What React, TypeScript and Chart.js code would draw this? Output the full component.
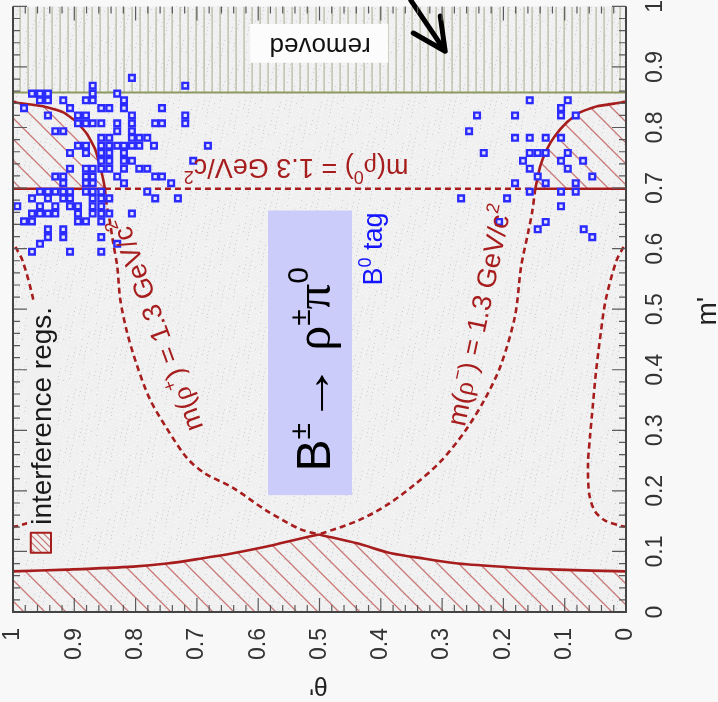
import React, { useEffect, useRef } from 'react';
import { Chart, registerables } from 'chart.js';

Chart.register(...registerables);

const SANS = '"Liberation Sans", Arial, Helvetica, sans-serif';
const SERIF = '"Liberation Serif", "DejaVu Serif", serif';
const RED = '#a71d1d';
const BLUE = '#2b2bff';

// axis ticks
const thetaTickValues = [1, 0.9, 0.8, 0.7, 0.6, 0.5, 0.4, 0.3, 0.2, 0.1, 0];
const thetaTickLabels = ['1', '0.9', '0.8', '0.7', '0.6', '0.5', '0.4', '0.3', '0.2', '0.1', '0'];
const mTickValues = [0, 0.1, 0.2, 0.3, 0.4, 0.5, 0.6, 0.7, 0.8, 0.9, 1];
const mTickLabels = ['0', '0.1', '0.2', '0.3', '0.4', '0.5', '0.6', '0.7', '0.8', '0.9', '1'];

// B0-tagged events: theta' and m'
const eventTheta = [
  0.806, 0.870, 0.719, 0.969, 0.956, 0.943, 0.870, 0.830, 0.956, 0.943,
  0.918, 0.881, 0.870, 0.819, 0.982, 0.907, 0.856, 0.843, 0.819, 0.757,
  0.943, 0.894, 0.881, 0.806, 0.719, 0.894, 0.881, 0.870, 0.856, 0.830,
  0.806, 0.768, 0.757, 0.719, 0.931, 0.918, 0.830, 0.806, 0.856, 0.843,
  0.806, 0.794, 0.781, 0.894, 0.881, 0.856, 0.843, 0.830, 0.819, 0.806,
  0.794, 0.770, 0.682, 0.907, 0.881, 0.856, 0.843, 0.819, 0.856, 0.843,
  0.819, 0.806, 0.706, 0.907, 0.881, 0.870, 0.856, 0.843, 0.819, 0.794,
  0.781, 0.931, 0.918, 0.881, 0.870, 0.830, 0.768, 0.757, 0.918, 0.881,
  0.870, 0.819, 0.742, 0.956, 0.943, 0.931, 0.918, 0.907, 0.881, 0.870,
  0.856, 0.781, 0.969, 0.943, 0.918, 0.907, 0.870, 0.856, 0.843, 0.768,
  0.731, 0.993, 0.956, 0.931, 0.907, 0.894, 0.870, 0.856, 0.969, 0.956,
  0.943, 0.931, 0.894, 0.870, 0.856, 0.843, 0.806, 0.982, 0.969, 0.894,
  0.881, 0.856, 0.943, 0.918, 0.943, 0.918, 0.856, 0.956, 0.830, 0.969,
  0.907, 0.856,
  0.157, 0.095, 0.106, 0.243, 0.181, 0.106, 0.082, 0.256, 0.181, 0.157,
  0.131, 0.106, 0.232, 0.157, 0.144, 0.131, 0.095, 0.168, 0.106, 0.070,
  0.157, 0.095, 0.144, 0.055, 0.181, 0.131, 0.082, 0.157, 0.106, 0.082,
  0.269, 0.194, 0.106, 0.207, 0.131, 0.144, 0.069, 0.055,
];
const eventM = [
  0.882, 0.869, 0.869, 0.856, 0.856, 0.856, 0.856, 0.856, 0.845, 0.845,
  0.845, 0.845, 0.845, 0.845, 0.832, 0.832, 0.832, 0.832, 0.832, 0.832,
  0.820, 0.820, 0.820, 0.820, 0.820, 0.807, 0.807, 0.807, 0.807, 0.807,
  0.807, 0.807, 0.807, 0.807, 0.794, 0.794, 0.794, 0.794, 0.783, 0.783,
  0.783, 0.783, 0.783, 0.770, 0.770, 0.770, 0.770, 0.770, 0.770, 0.770,
  0.770, 0.770, 0.770, 0.758, 0.758, 0.758, 0.758, 0.758, 0.745, 0.745,
  0.745, 0.745, 0.745, 0.732, 0.732, 0.732, 0.732, 0.732, 0.732, 0.732,
  0.732, 0.719, 0.719, 0.719, 0.719, 0.719, 0.719, 0.719, 0.708, 0.708,
  0.708, 0.708, 0.708, 0.694, 0.694, 0.694, 0.694, 0.694, 0.694, 0.694,
  0.694, 0.694, 0.683, 0.683, 0.683, 0.683, 0.683, 0.683, 0.683, 0.683,
  0.683, 0.670, 0.670, 0.670, 0.670, 0.670, 0.670, 0.670, 0.658, 0.658,
  0.658, 0.658, 0.658, 0.658, 0.658, 0.658, 0.658, 0.645, 0.645, 0.645,
  0.645, 0.645, 0.632, 0.632, 0.619, 0.619, 0.619, 0.608, 0.608, 0.595,
  0.595, 0.595,
  0.845, 0.845, 0.832, 0.820, 0.820, 0.820, 0.820, 0.794, 0.783, 0.783,
  0.783, 0.783, 0.758, 0.758, 0.758, 0.758, 0.758, 0.745, 0.745, 0.745,
  0.732, 0.732, 0.719, 0.719, 0.708, 0.708, 0.708, 0.694, 0.694, 0.694,
  0.683, 0.683, 0.670, 0.644, 0.644, 0.632, 0.632, 0.619,
];

// m(rho+) = 1.3 GeV contour
const rhoPlusTheta = [0.850, 0.847, 0.842, 0.837, 0.830, 0.825, 0.814, 0.798, 0.777, 0.749, 0.716, 0.687, 0.641, 0.586, 0.532, 0.501];
const rhoPlusM = [0.699, 0.671, 0.645, 0.612, 0.571, 0.516, 0.462, 0.408, 0.352, 0.303, 0.254, 0.229, 0.205, 0.167, 0.137, 0.128];
// m(rho-) = 1.3 GeV contour
const rhoMinusTheta = [0.148, 0.153, 0.160, 0.171, 0.181, 0.204, 0.230, 0.263, 0.302, 0.344, 0.388, 0.437, 0.501];
const rhoMinusM = [0.699, 0.661, 0.625, 0.571, 0.489, 0.408, 0.352, 0.298, 0.249, 0.211, 0.178, 0.151, 0.128];
// m(rho0) = 1.3 GeV contour
const rhoZeroTheta = [0.850, 0.148];
const rhoZeroM = [0.699, 0.699];
// side contours
const sideRightTheta = [0.004, 0.016, 0.033, 0.041, 0.049, 0.054, 0.059, 0.062, 0.060, 0.051, 0.034, 0.008, 0.0];
const sideRightM = [0.603, 0.579, 0.516, 0.462, 0.396, 0.342, 0.286, 0.244, 0.195, 0.167, 0.151, 0.142, 0.141];
const sideLeftTheta = [0.996, 0.984, 0.967, 0.959, 0.951, 0.946, 0.941, 0.938, 0.940, 0.949, 0.966, 0.992, 1.0];
const sideLeftM = [0.603, 0.579, 0.516, 0.462, 0.396, 0.342, 0.286, 0.244, 0.195, 0.167, 0.151, 0.142, 0.141];

// interference regions (solid boundaries)
const arcLeftTheta = [1.0, 0.993, 0.951, 0.918, 0.896, 0.879, 0.866, 0.858, 0.853, 0.850];
const arcLeftM = [0.843, 0.841, 0.835, 0.825, 0.809, 0.789, 0.764, 0.736, 0.715, 0.699];
const floorLeftTheta = [1.0, 0.850];
const floorLeftM = [0.699, 0.699];
const arcRightTheta = [0.148, 0.140, 0.129, 0.116, 0.096, 0.075, 0.047, 0.010, 0.0];
const arcRightM = [0.699, 0.736, 0.764, 0.786, 0.809, 0.825, 0.835, 0.841, 0.843];
const floorRightTheta = [0.148, 0.0];
const floorRightM = [0.699, 0.699];
const bottomLeftTheta = [1.0, 0.912, 0.804, 0.749, 0.695, 0.641, 0.586, 0.532, 0.501];
const bottomLeftM = [0.067, 0.070, 0.075, 0.080, 0.088, 0.097, 0.108, 0.121, 0.128];
const bottomRightTheta = [0.501, 0.437, 0.383, 0.328, 0.274, 0.192, 0.111, 0.0];
const bottomRightM = [0.128, 0.113, 0.097, 0.088, 0.080, 0.074, 0.070, 0.067];

// removed region boundary
const removedTheta = [0, 1];
const removedM = [0.858, 0.858];

const pts = (xs: number[], ys: number[]) => xs.map((x, i) => ({ x, y: ys[i] }));

type Seg = { t: string; f: string; dy?: number; sx?: number };
function drawRich(ctx: CanvasRenderingContext2D, segs: Seg[], x: number, y: number, angle: number, align: string, color: string) {
  ctx.save();
  ctx.translate(x, y);
  ctx.rotate(angle);
  ctx.fillStyle = color;
  ctx.textBaseline = 'alphabetic';
  ctx.textAlign = 'left';
  let total = 0;
  const ws = segs.map((s) => { ctx.font = s.f; const w = ctx.measureText(s.t).width * (s.sx || 1); total += w; return w; });
  let cx = align === 'center' ? -total / 2 : align === 'right' ? -total : 0;
  segs.forEach((s, i) => {
    ctx.font = s.f;
    if (s.sx) {
      ctx.save();
      ctx.translate(cx, s.dy || 0);
      ctx.scale(s.sx, 1);
      ctx.fillText(s.t, 0, 0);
      ctx.restore();
    } else {
      ctx.fillText(s.t, cx, s.dy || 0);
    }
    cx += ws[i];
  });
  ctx.restore();
}

function makeHatch(color: string, size: number, lw: number) {
  const c = document.createElement('canvas');
  c.width = size; c.height = size;
  const g = c.getContext('2d')!;
  g.strokeStyle = color; g.lineWidth = lw;
  g.beginPath();
  g.moveTo(-3, -3); g.lineTo(size + 3, size + 3);
  g.moveTo(-3, size - 3); g.lineTo(3, size + 3);
  g.moveTo(size - 3, -3); g.lineTo(size + 3, 3);
  g.stroke();
  return g.createPattern(c, 'repeat')!;
}
function makeStripes() {
  const c = document.createElement('canvas');
  c.width = 8; c.height = 8;
  const g = c.getContext('2d')!;
  g.fillStyle = 'rgba(185,188,160,0.95)';
  g.fillRect(3.4, 0, 1.4, 8);
  return g.createPattern(c, 'repeat')!;
}
function makeSpeckle() {
  const c = document.createElement('canvas');
  c.width = 41; c.height = 41;
  const g = c.getContext('2d')!;
  g.fillStyle = '#f0f0f0';
  g.fillRect(0, 0, 41, 41);
  for (let i = 0; i < 110; i++) {
    const x = (i * 17 + (i % 7) * 5) % 41;
    const y = (i * 29 + (i % 5) * 11) % 41;
    g.fillStyle = i % 3 === 0 ? 'rgba(160,160,185,0.4)' : 'rgba(255,255,255,0.75)';
    g.fillRect(x, y, 1, 1);
  }
  return g.createPattern(c, 'repeat')!;
}

export default function App() {
  const ref = useRef<HTMLCanvasElement>(null);
  useEffect(() => {
    const canvas = ref.current!;
    const hatch = makeHatch('rgba(190,80,80,0.75)', 21, 1.3);
    const hatchSmall = makeHatch('rgba(190,80,80,0.8)', 7, 1.2);
    const stripes = makeStripes();
    const speckle = makeSpeckle();

    const curve = (data: any, dashed: boolean, extra: any = {}) => ({
      type: 'line',
      data,
      borderColor: RED,
      borderWidth: 2.6,
      borderDash: dashed ? [6, 4] : [],
      pointRadius: 0,
      tension: 0.3,
      fill: false,
      order: 1,
      ...extra,
    });

    const plugin = {
      id: 'dalitzDecor',
      beforeDraw(chart: any) {
        const { ctx, chartArea: a } = chart;
        ctx.save();
        ctx.fillStyle = '#f8f8f8';
        ctx.fillRect(0, 0, chart.width, chart.height);
        ctx.fillStyle = speckle;
        ctx.fillRect(a.left, a.top, a.right - a.left, a.bottom - a.top);
        ctx.restore();
      },
      afterDatasetsDraw(chart: any) {
        const { ctx } = chart;
        const X = (v: number) => chart.scales.x.getPixelForValue(v);
        const Y = (v: number) => chart.scales.y.getPixelForValue(v);
        ctx.save();
        // removed label box
        ctx.fillStyle = '#fcfcfc';
        ctx.fillRect(X(0.613), Y(0.971), X(0.388) - X(0.613), Y(0.907) - Y(0.971));
        drawRich(ctx, [{ t: 'removed', f: `26px ${SANS}` }], X(0.499), Y(0.948), Math.PI, 'center', '#111');
        // arrow
        ctx.strokeStyle = '#000';
        ctx.lineWidth = 5;
        ctx.lineCap = 'round';
        ctx.lineJoin = 'round';
        ctx.beginPath();
        ctx.moveTo(X(0.351), Y(1.01));
        ctx.lineTo(X(0.295), Y(0.926));
        ctx.moveTo(X(0.303), Y(0.984));
        ctx.lineTo(X(0.295), Y(0.926));
        ctx.lineTo(X(0.347), Y(0.956));
        ctx.stroke();
        // decay label box
        ctx.fillStyle = '#ccccfa';
        ctx.fillRect(X(0.584), Y(0.663), X(0.447) - X(0.584), Y(0.193) - Y(0.663));
        drawRich(ctx, [
          { t: 'B', f: `48px ${SANS}` },
          { t: '±', f: `30px ${SANS}`, dy: -20 },
          { t: '→', f: `48px ${SANS}`, sx: 1.25 },
          { t: ' ', f: `44px ${SANS}` },
          { t: 'ρ', f: `50px ${SERIF}` },
          { t: '±', f: `30px ${SANS}`, dy: -20 },
          { t: 'π', f: `51px ${SERIF}` },
          { t: '0', f: `30px ${SANS}`, dy: -22 },
        ], X(0.483), Y(0.232), -Math.PI / 2, 'left', '#000');
        drawRich(ctx, [
          { t: 'B', f: `27px ${SANS}` },
          { t: '0', f: `18px ${SANS}`, dy: -11 },
          { t: ' tag', f: `27px ${SANS}` },
        ], X(0.398), Y(0.539), -Math.PI / 2, 'left', '#1515ff');
        // contour labels
        const lab = (sign: string): Seg[] => [
          { t: 'm(', f: `27px ${SANS}` },
          { t: 'ρ', f: `27px ${SERIF}` },
          { t: sign, f: `18px ${SANS}`, dy: -12 },
          { t: ') = 1.3 GeV/c', f: `27px ${SANS}` },
          { t: '2', f: `18px ${SANS}`, dy: -12 },
        ];
        drawRich(ctx, lab('0'), X(0.538), Y(0.748), Math.PI, 'center', RED);
        drawRich(ctx, lab('+'), X(0.752), Y(0.480), (-110 * Math.PI) / 180, 'center', RED);
        drawRich(ctx, lab('−'), X(0.225), Y(0.487), (-78 * Math.PI) / 180, 'center', RED);
        // legend
        ctx.fillStyle = '#f0f0f0';
        ctx.fillRect(X(0.977), Y(0.513), X(0.928) - X(0.977), Y(0.088) - Y(0.513));
        const bx = X(0.971), by = Y(0.131), bw = X(0.938) - X(0.971), bh = Y(0.098) - Y(0.131);
        ctx.fillStyle = hatchSmall;
        ctx.fillRect(bx, by, bw, bh);
        ctx.strokeStyle = RED;
        ctx.lineWidth = 2;
        ctx.strokeRect(bx, by, bw, bh);
        drawRich(ctx, [{ t: 'interference regs.', f: `28px ${SANS}` }], X(0.938), Y(0.144), -Math.PI / 2, 'left', '#1a1a1a');
        ctx.restore();
      },
      afterDraw(chart: any) {
        const { ctx, chartArea: a } = chart;
        const X = (v: number) => chart.scales.x.getPixelForValue(v);
        const Y = (v: number) => chart.scales.y.getPixelForValue(v);
        ctx.save();
        // ticks
        ctx.strokeStyle = '#5a5a5a';
        ctx.lineWidth = 1.2;
        ctx.beginPath();
        for (let i = 0; i <= 50; i++) {
          const v = i / 50;
          const len = i % 5 === 0 ? 14 : 7;
          const x = X(v), y = Y(v);
          ctx.moveTo(x, a.bottom); ctx.lineTo(x, a.bottom - len);
          ctx.moveTo(x, a.top); ctx.lineTo(x, a.top + len);
          ctx.moveTo(a.right, y); ctx.lineTo(a.right - len, y);
          ctx.moveTo(a.left, y); ctx.lineTo(a.left + len, y);
        }
        ctx.stroke();
        // frame
        ctx.strokeStyle = '#444';
        ctx.lineWidth = 2;
        ctx.beginPath();
        ctx.moveTo(a.left, a.top); ctx.lineTo(a.left, a.bottom);
        ctx.lineTo(a.right, a.bottom); ctx.lineTo(a.right, a.top);
        ctx.stroke();
        // tick labels
        ctx.fillStyle = '#333';
        ctx.font = `23px ${SANS}`;
        thetaTickValues.forEach((v, i) => {
          ctx.save();
          ctx.translate(X(v), a.bottom + 16);
          ctx.rotate(-Math.PI / 2);
          ctx.textAlign = 'right';
          ctx.textBaseline = 'middle';
          ctx.fillText(thetaTickLabels[i], 0, 0);
          ctx.restore();
        });
        mTickValues.forEach((v, i) => {
          ctx.save();
          ctx.translate(a.right + 36, Y(v));
          ctx.rotate(-Math.PI / 2);
          ctx.textAlign = 'center';
          ctx.textBaseline = 'alphabetic';
          ctx.fillText(mTickLabels[i], 0, 0);
          ctx.restore();
        });
        // axis titles
        drawRich(ctx, [{ t: "θ'", f: `25px ${SANS}` }], X(0.5) - 1, a.bottom + 65, Math.PI, 'center', '#222');
        drawRich(ctx, [{ t: "m'", f: `28px ${SANS}` }], a.right + 90, Y(0.5) + 2, -Math.PI / 2, 'center', '#222');
        ctx.restore();
      },
    };

    const chart = new Chart(canvas, {
      type: 'scatter',
      data: {
        datasets: [
          {
            label: 'B0 tag events',
            data: pts(eventTheta, eventM),
            pointStyle: 'rect',
            pointRadius: 4,
            borderWidth: 2.4,
            borderColor: BLUE,
            backgroundColor: '#e4e4ff',
            order: 0,
          } as any,
          curve(pts(rhoPlusTheta, rhoPlusM), true),
          curve(pts(rhoMinusTheta, rhoMinusM), true),
          curve(pts(rhoZeroTheta, rhoZeroM), true, { tension: 0 }),
          curve(pts(sideRightTheta, sideRightM), true),
          curve(pts(sideLeftTheta, sideLeftM), true),
          curve(pts(arcLeftTheta, arcLeftM), false, { tension: 0.15, fill: { value: 0.699 }, backgroundColor: hatch, order: 2 }),
          curve(pts(floorLeftTheta, floorLeftM), false, { tension: 0 }),
          curve(pts(arcRightTheta, arcRightM), false, { tension: 0.15, fill: { value: 0.699 }, backgroundColor: hatch, order: 2 }),
          curve(pts(floorRightTheta, floorRightM), false, { tension: 0 }),
          curve(pts(bottomLeftTheta, bottomLeftM), false, { fill: { value: 0 }, backgroundColor: hatch, order: 2 }),
          curve(pts(bottomRightTheta, bottomRightM), false, { fill: { value: 0 }, backgroundColor: hatch, order: 2 }),
          curve(pts(removedTheta, removedM), false, {
            tension: 0, borderColor: '#8c9a62', borderWidth: 2, fill: 'end', backgroundColor: stripes, order: 3,
          }),
        ] as any,
      },
      options: {
        animation: false,
        responsive: false,
        devicePixelRatio: 1,
        layout: { padding: { left: 13, right: 92, top: 0, bottom: 90 } },
        scales: {
          x: { type: 'linear', min: 0, max: 1, reverse: true, display: false },
          y: { type: 'linear', min: 0, max: 1, display: false },
        },
        plugins: {
          legend: { display: false },
          tooltip: { enabled: false },
          filler: { propagate: false },
        },
      } as any,
      plugins: [plugin],
    });
    return () => chart.destroy();
  }, []);

  return (
    <div style={{ position: 'absolute', left: 0, top: 0, width: 718, height: 702 }}>
      <canvas ref={ref} width={718} height={702} style={{ display: 'block', width: 718, height: 702 }} />
    </div>
  );
}
